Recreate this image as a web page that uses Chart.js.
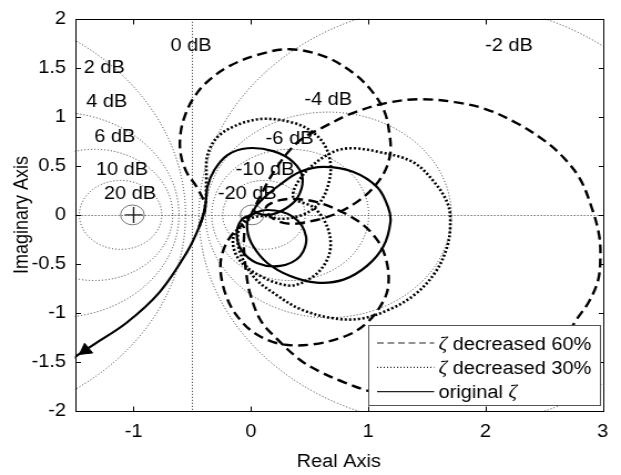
<!DOCTYPE html>
<html>
<head>
<meta charset="utf-8">
<title>Nyquist diagram</title>
<script src="https://cdn.jsdelivr.net/npm/chart.js@4.4.0/dist/chart.umd.min.js"></script>
<style>
  html, body { margin: 0; padding: 0; background: #fff; overflow: hidden; }
  /* figure is exported a bit wider than tall, so stretch the canvas horizontally */
  #wrap { width: 560px; height: 475px; transform: scaleX(1.1089); transform-origin: 0 0; }
</style>
</head>
<body>
<div id="wrap"><canvas id="nyq" width="560" height="475"></canvas></div>
<script>
// axis ticks
const xTicks = [-1, 0, 1, 2, 3];
const yTicks = [-2, -1.5, -1, -0.5, 0, 0.5, 1, 1.5, 2];

// constant closed-loop magnitude contours (dB) and where their labels sit
const dbLevels = [20, 10, 6, 4, 2, 0, -2, -4, -6, -10, -20];
const dbLabelRe = [-1.03, -1.10, -1.16, -1.23, -1.25, -0.51, 2.20, 0.66, 0.33, 0.12, -0.03];
const dbLabelIm = [0.21, 0.46, 0.79, 1.15, 1.50, 1.72, 1.72, 1.17, 0.77, 0.46, 0.21];

// critical point and direction arrow on the original response
const critical = [{ x: -1, y: 0 }];
const arrowAt = [{ x: -1.41, y: -1.38 }];

// original damping
const origRe = [-1.56, -1.50, -1.35, -1.06, -0.78, -0.55, -0.44, -0.39, -0.37, -0.31,
  -0.20, -0.03, 0.19, 0.36, 0.44, 0.40, 0.29, 0.15, 0.03, 0.09,
  0.25, 0.42, 0.62, 0.87, 1.08, 1.17, 1.19, 1.13, 0.99, 0.79,
  0.56, 0.33, 0.14, 0.02, -0.03, -0.01, 0.14, 0.36, 0.47, 0.42,
  0.25, 0.05, -0.08, -0.12, -0.08, 0];
const origIm = [-1.51, -1.45, -1.33, -1.10, -0.79, -0.39, -0.12, 0.08, 0.29, 0.46,
  0.61, 0.68, 0.65, 0.54, 0.38, 0.18, 0.06, 0.00, 0.04, 0.15,
  0.31, 0.44, 0.49, 0.44, 0.28, 0.08, -0.07, -0.32, -0.52, -0.66,
  -0.69, -0.62, -0.49, -0.32, -0.16, -0.02, 0.05, -0.02, -0.22, -0.42,
  -0.52, -0.49, -0.36, -0.19, -0.05, 0];

// damping decreased 30%
const z30Re = [-0.44, -0.39, -0.38, -0.37, -0.28, -0.09, 0.12, 0.36, 0.52, 0.63,
  0.68, 0.66, 0.59, 0.46, 0.27, 0.09, -0.05, -0.15, -0.11, 0.06,
  0.32, 0.49, 0.62, 0.68, 0.64, 0.53, 0.36, 0.46, 0.68, 0.85,
  1.10, 1.38, 1.56, 1.68, 1.70, 1.67, 1.57, 1.40, 1.19, 0.93,
  0.68, 0.42, 0.21, 0.03, -0.09, -0.11, -0.05, 0];
const z30Im = [-0.12, 0.08, 0.36, 0.61, 0.80, 0.93, 0.98, 0.94, 0.85, 0.71,
  0.51, 0.31, 0.13, 0.01, -0.04, -0.01, -0.07, -0.23, -0.44, -0.61,
  -0.72, -0.66, -0.52, -0.32, -0.09, 0.08, 0.18, 0.43, 0.63, 0.68,
  0.64, 0.54, 0.34, 0.11, -0.11, -0.34, -0.59, -0.81, -0.96, -1.06,
  -1.05, -0.96, -0.81, -0.64, -0.39, -0.19, -0.05, 0];

// damping decreased 60%
const z60Re = [-0.44, -0.39, -0.46, -0.55, -0.60, -0.60, -0.56, -0.49, -0.38, -0.18,
  0.08, 0.33, 0.62, 0.87, 1.04, 1.14, 1.18, 1.19, 1.14, 1.03,
  0.89, 0.72, 0.53, 0.33, 0.18, 0.13, 0.25, 0.42, 0.62, 0.91,
  1.08, 1.16, 1.17, 1.11, 0.99, 0.82, 0.53, 0.27, 0.08, -0.07,
  -0.20, -0.26, -0.20, -0.07, -0.06, -0.04, -0.01, 0.08, 0.21, 0.42,
  0.59, 0.80, 1.02, 1.44, 1.96, 2.38, 2.64, 2.77, 2.88, 2.96,
  2.98, 2.97, 2.91, 2.81, 2.67, 2.50, 2.26, 2.00, 1.74, 1.44,
  1.15, 0.85, 0.61, 0.44, 0.31, 0.18, 0.08, 0];
const z60Im = [-0.12, 0.08, 0.28, 0.44, 0.63, 0.83, 1.02, 1.19, 1.35, 1.52,
  1.64, 1.69, 1.62, 1.45, 1.25, 1.05, 0.84, 0.64, 0.44, 0.26,
  0.12, 0.01, -0.06, -0.09, -0.03, 0.08, 0.15, 0.16, 0.11, -0.06,
  -0.26, -0.49, -0.74, -0.92, -1.10, -1.23, -1.32, -1.32, -1.24, -1.10,
  -0.86, -0.52, -0.27, -0.11, -0.34, -0.59, -0.79, -1.07, -1.25, -1.48,
  -1.60, -1.71, -1.80, -1.88, -1.83, -1.62, -1.33, -1.08, -0.89, -0.67,
  -0.44, -0.21, 0.06, 0.36, 0.58, 0.76, 0.94, 1.08, 1.15, 1.18,
  1.14, 1.03, 0.89, 0.78, 0.63, 0.41, 0.19, 0];

const pts = (re, im) => re.map((v, i) => ({ x: v, y: im[i] }));

const FONT = '"Liberation Sans", Arial, Helvetica, sans-serif';
const font = { family: FONT, size: 18 };

// M-circles, 0 dB line and real axis, drawn under the curves
const mGrid = {
  id: 'mGrid',
  beforeDatasetsDraw(chart) {
    const { ctx, chartArea: a, scales: { x, y } } = chart;
    ctx.save();
    ctx.beginPath();
    ctx.rect(a.left, a.top, a.right - a.left, a.bottom - a.top);
    ctx.clip();
    ctx.strokeStyle = '#333';
    ctx.lineWidth = 1;
    const y0 = y.getPixelForValue(0);
    dbLevels.forEach(db => {
      ctx.setLineDash(Math.abs(db) >= 20 ? [] : [1, 2]);
      ctx.strokeStyle = Math.abs(db) >= 20 ? '#777' : '#333';
      ctx.beginPath();
      if (db === 0) {
        const px = Math.round(x.getPixelForValue(-0.5)) + 0.5;
        ctx.moveTo(px, a.top);
        ctx.lineTo(px, a.bottom);
      } else {
        const m = Math.pow(10, db / 20), k = m * m - 1;
        const c = -m * m / k, r = Math.abs(m / k);
        const cx = x.getPixelForValue(c);
        const rx = Math.abs(x.getPixelForValue(c + r) - cx);
        const ry = Math.abs(y.getPixelForValue(r) - y0);
        ctx.ellipse(cx, y0, rx, ry, 0, 0, Math.PI * 2);
      }
      ctx.stroke();
    });
    ctx.strokeStyle = '#333';
    ctx.setLineDash([1, 2]);
    ctx.beginPath();
    ctx.moveTo(a.left, Math.round(y0) + 0.5);
    ctx.lineTo(a.right, Math.round(y0) + 0.5);
    ctx.stroke();
    ctx.restore();

    ctx.save();
    ctx.font = '18px ' + FONT;
    ctx.fillStyle = '#000';
    ctx.textAlign = 'center';
    ctx.textBaseline = 'middle';
    dbLevels.forEach((db, i) => {
      ctx.fillText(db + ' dB', x.getPixelForValue(dbLabelRe[i]), y.getPixelForValue(dbLabelIm[i]));
    });
    ctx.restore();
  }
};

// boxed axes with inward ticks on all four sides
const frame = {
  id: 'frame',
  afterDatasetsDraw(chart) {
    const { ctx, chartArea: a, scales: { x, y } } = chart;
    const L = Math.round(a.left) + 0.5, R = Math.round(a.right) + 0.5;
    const T = Math.round(a.top) + 0.5, B = Math.round(a.bottom) + 0.5;
    ctx.save();
    ctx.strokeStyle = '#000';
    ctx.lineWidth = 1;
    ctx.strokeRect(L, T, R - L, B - T);
    ctx.beginPath();
    x.ticks.forEach(t => {
      const p = Math.round(x.getPixelForValue(t.value)) + 0.5;
      ctx.moveTo(p, B); ctx.lineTo(p, B - 5);
      ctx.moveTo(p, T); ctx.lineTo(p, T + 5);
    });
    y.ticks.forEach(t => {
      const p = Math.round(y.getPixelForValue(t.value)) + 0.5;
      ctx.moveTo(L, p); ctx.lineTo(L + 4.5, p);
      ctx.moveTo(R, p); ctx.lineTo(R - 4.5, p);
    });
    ctx.stroke();
    ctx.restore();
  }
};

// legend box in the lower right corner of the plot
const legendDash = [[6, 3.5], [1, 2], []];
const boxLegend = {
  id: 'boxLegend',
  afterDraw(chart) {
    const { ctx, chartArea: a } = chart;
    const w = 209, h = 80;
    const left = Math.round(a.right - 3 - w) + 0.5;
    const top = Math.round(a.bottom - 6 - h) + 0.5;
    ctx.save();
    ctx.fillStyle = '#fff';
    ctx.fillRect(left, top, w, h);
    ctx.strokeStyle = '#555';
    ctx.lineWidth = 1;
    ctx.setLineDash([]);
    ctx.strokeRect(left, top, w, h);
    chart.data.datasets.slice(0, 3).forEach((ds, i) => {
      const ly = top + 17.5 + i * 24.3;
      ctx.strokeStyle = '#222';
      ctx.lineWidth = 1.2;
      ctx.setLineDash(legendDash[i]);
      ctx.beginPath();
      ctx.moveTo(left + 7.5, ly);
      ctx.lineTo(left + 59, ly);
      ctx.stroke();
      ctx.fillStyle = '#000';
      ctx.textBaseline = 'alphabetic';
      let tx = left + 63;
      ds.label.split(/(ζ)/).filter(s => s).forEach(part => {
        ctx.font = part === 'ζ' ? 'italic 19px "Liberation Serif", serif' : '18px ' + FONT;
        ctx.fillText(part, tx, ly + 6.5);
        tx += ctx.measureText(part).width;
      });
    });
    ctx.restore();
  }
};

new Chart(document.getElementById('nyq'), {
  type: 'scatter',
  data: {
    datasets: [
      { label: 'ζ decreased 60%', data: pts(z60Re, z60Im), showLine: true, borderColor: '#000',
        borderWidth: 2.4, borderDash: [9, 5], pointRadius: 0, tension: 0.35, clip: 0, order: 3 },
      { label: 'ζ decreased 30%', data: pts(z30Re, z30Im), showLine: true, borderColor: '#000',
        borderWidth: 2.6, borderDash: [2, 2], pointRadius: 0, tension: 0.35, clip: 0, order: 2 },
      { label: 'original ζ', data: pts(origRe, origIm), showLine: true, borderColor: '#000',
        borderWidth: 2.2, pointRadius: 0, tension: 0.35, clip: 0, order: 1 },
      { label: 'critical point', data: critical, pointStyle: 'cross', pointRadius: 8,
        borderColor: '#222', borderWidth: 1.4, order: 0 },
      { label: 'direction', data: arrowAt, pointStyle: 'triangle', pointRadius: 7, rotation: 233,
        backgroundColor: '#000', borderColor: '#000', borderWidth: 1, order: 0 }
    ]
  },
  options: {
    responsive: false,
    animation: false,
    devicePixelRatio: 1,
    events: [],
    elements: { line: { capBezierPoints: false } },
    layout: { padding: { left: 0, right: 16.5, top: 12, bottom: 0 } },
    plugins: { legend: { display: false }, tooltip: { enabled: false } },
    scales: {
      x: {
        type: 'linear', min: -1.5, max: 3,
        grid: { display: false, drawTicks: false },
        border: { display: false },
        afterBuildTicks: s => { s.ticks = xTicks.map(v => ({ value: v })); },
        afterFit: s => { s.height = 64; },
        ticks: { font, color: '#000', padding: 10, maxRotation: 0, callback: v => String(v) },
        title: { display: true, text: 'Real Axis', font, color: '#000', padding: { top: 0, bottom: 2 } }
      },
      y: {
        type: 'linear', min: -2, max: 2,
        grid: { display: false, drawTicks: false },
        border: { display: false },
        afterBuildTicks: s => { s.ticks = yTicks.map(v => ({ value: v })); },
        afterFit: s => { s.width = 67.6; },
        ticks: { font, color: '#000', padding: 8, callback: v => String(v) },
        title: { display: true, text: 'Imaginary Axis', font, color: '#000', padding: { top: 9, bottom: 0 } }
      }
    }
  },
  plugins: [mGrid, frame, boxLegend]
});
</script>
</body>
</html>
